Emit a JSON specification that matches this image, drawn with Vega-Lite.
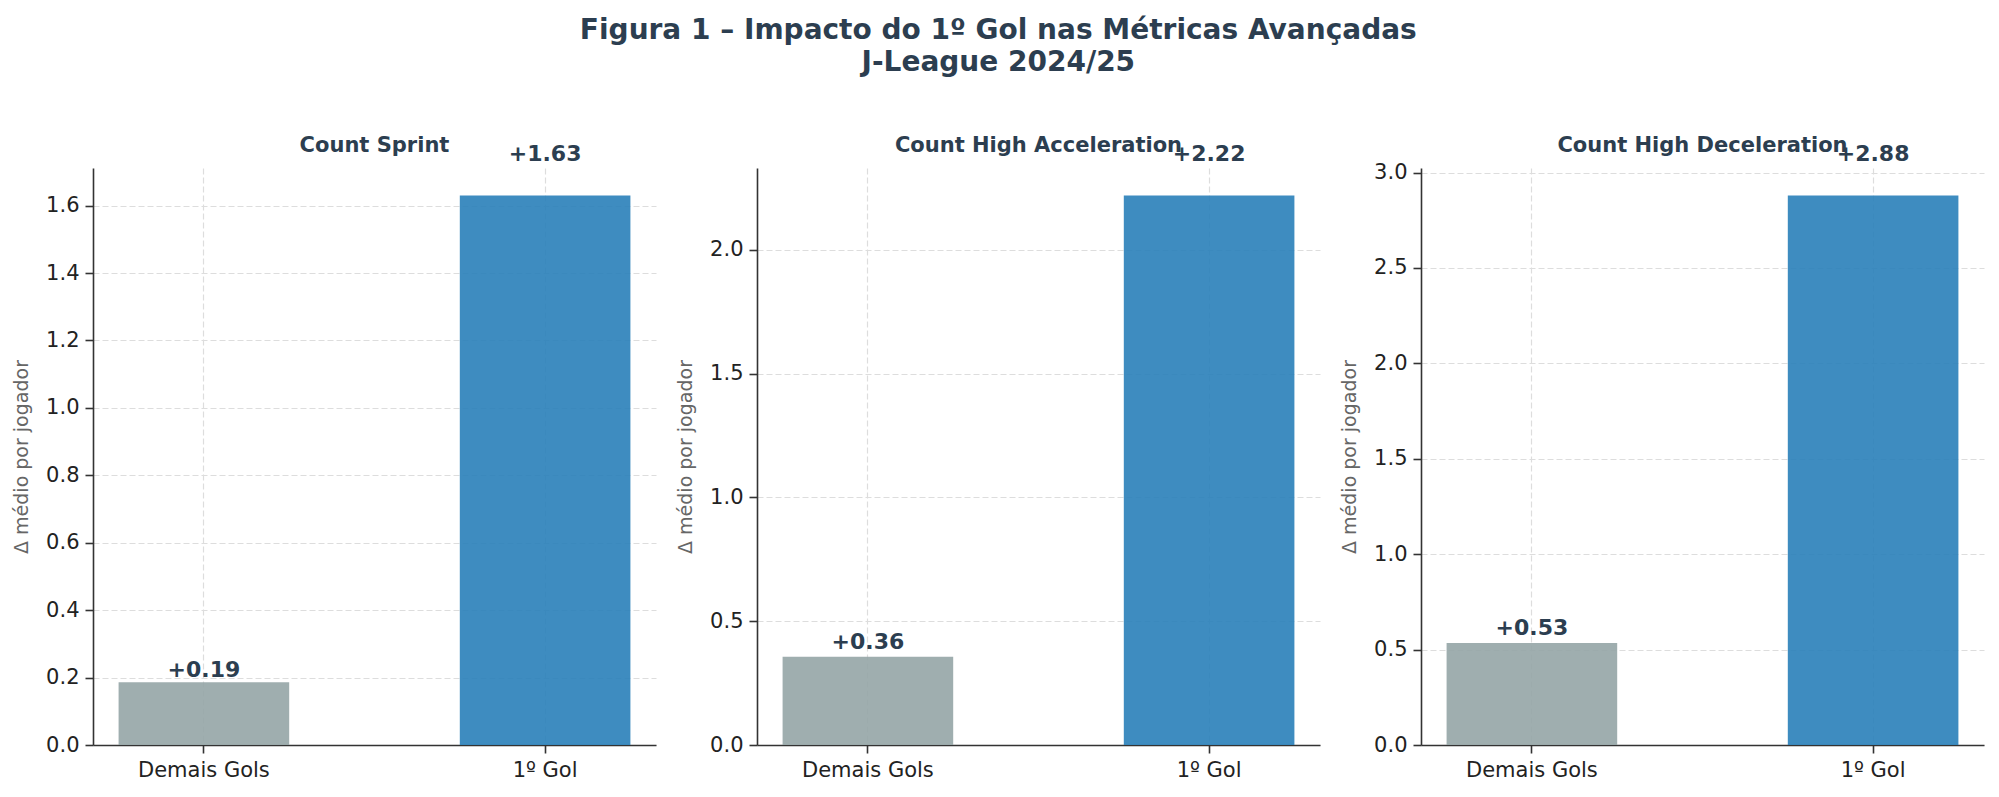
{
  "$schema": "https://vega.github.io/schema/vega-lite/v6.json",
  "padding": {"left": 12, "top": 16, "right": 10, "bottom": 5},
  "background": "white",
  "title": {
    "text": ["Figura 1 – Impacto do 1º Gol nas Métricas Avançadas", "J-League 2024/25"],
    "fontSize": 28,
    "lineHeight": 32,
    "fontWeight": "bold",
    "color": "#2c3e50",
    "anchor": "middle",
    "offset": 58
  },
  "data": {
    "values": [
      {"metrica": "Count Sprint", "grupo": "Demais Gols", "valor": 0.186},
      {"metrica": "Count Sprint", "grupo": "1º Gol", "valor": 1.63},
      {"metrica": "Count High Acceleration", "grupo": "Demais Gols", "valor": 0.357},
      {"metrica": "Count High Acceleration", "grupo": "1º Gol", "valor": 2.22},
      {"metrica": "Count High Deceleration", "grupo": "Demais Gols", "valor": 0.534},
      {"metrica": "Count High Deceleration", "grupo": "1º Gol", "valor": 2.88}
    ]
  },
  "spacing": 20,
  "hconcat": [
    {
      "title": "Count Sprint",
      "width": 563,
      "height": 577,
      "transform": [
        {"filter": "datum.metrica == 'Count Sprint'"},
        {"calculate": "datum.valor * 1.06", "as": "pos_rotulo"},
        {"calculate": "'+' + format(datum.valor, '.2f')", "as": "rotulo"}
      ],
      "encoding": {
        "x": {"field": "grupo", "type": "nominal", "sort": ["Demais Gols", "1º Gol"], "title": null,
              "scale": {"paddingInner": 0.5, "paddingOuter": 0.075}}
      },
      "layer": [
        {
          "mark": {"type": "bar", "opacity": 0.9},
          "encoding": {
            "y": {"field": "valor", "type": "quantitative", "title": "Δ médio por jogador",
                  "scale": {"domain": [0, 1.7115], "nice": false},
                  "axis": {"values": [0, 0.2, 0.4, 0.6, 0.8, 1.0, 1.2, 1.4, 1.6], "format": ".1f"}},
            "color": {"field": "grupo", "type": "nominal", "legend": null,
                      "scale": {"domain": ["Demais Gols", "1º Gol"], "range": ["#95a5a6", "#2980b9"]}}
          }
        },
        {
          "mark": {"type": "text", "fontSize": 22, "fontWeight": "bold", "color": "#2c3e50", "baseline": "alphabetic", "dy": -2},
          "encoding": {
            "y": {"field": "pos_rotulo", "type": "quantitative", "title": "Δ médio por jogador"},
            "text": {"field": "rotulo"}
          }
        }
      ]
    },
    {
      "title": "Count High Acceleration",
      "width": 563,
      "height": 577,
      "transform": [
        {"filter": "datum.metrica == 'Count High Acceleration'"},
        {"calculate": "datum.valor * 1.06", "as": "pos_rotulo"},
        {"calculate": "'+' + format(datum.valor, '.2f')", "as": "rotulo"}
      ],
      "encoding": {
        "x": {"field": "grupo", "type": "nominal", "sort": ["Demais Gols", "1º Gol"], "title": null,
              "scale": {"paddingInner": 0.5, "paddingOuter": 0.075}}
      },
      "layer": [
        {
          "mark": {"type": "bar", "opacity": 0.9},
          "encoding": {
            "y": {"field": "valor", "type": "quantitative", "title": "Δ médio por jogador",
                  "scale": {"domain": [0, 2.331], "nice": false},
                  "axis": {"values": [0, 0.5, 1.0, 1.5, 2.0], "format": ".1f"}},
            "color": {"field": "grupo", "type": "nominal", "legend": null,
                      "scale": {"domain": ["Demais Gols", "1º Gol"], "range": ["#95a5a6", "#2980b9"]}}
          }
        },
        {
          "mark": {"type": "text", "fontSize": 22, "fontWeight": "bold", "color": "#2c3e50", "baseline": "alphabetic", "dy": -2},
          "encoding": {
            "y": {"field": "pos_rotulo", "type": "quantitative", "title": "Δ médio por jogador"},
            "text": {"field": "rotulo"}
          }
        }
      ]
    },
    {
      "title": "Count High Deceleration",
      "width": 563,
      "height": 577,
      "transform": [
        {"filter": "datum.metrica == 'Count High Deceleration'"},
        {"calculate": "datum.valor * 1.06", "as": "pos_rotulo"},
        {"calculate": "'+' + format(datum.valor, '.2f')", "as": "rotulo"}
      ],
      "encoding": {
        "x": {"field": "grupo", "type": "nominal", "sort": ["Demais Gols", "1º Gol"], "title": null,
              "scale": {"paddingInner": 0.5, "paddingOuter": 0.075}}
      },
      "layer": [
        {
          "mark": {"type": "bar", "opacity": 0.9},
          "encoding": {
            "y": {"field": "valor", "type": "quantitative", "title": "Δ médio por jogador",
                  "scale": {"domain": [0, 3.024], "nice": false},
                  "axis": {"values": [0, 0.5, 1.0, 1.5, 2.0, 2.5, 3.0], "format": ".1f"}},
            "color": {"field": "grupo", "type": "nominal", "legend": null,
                      "scale": {"domain": ["Demais Gols", "1º Gol"], "range": ["#95a5a6", "#2980b9"]}}
          }
        },
        {
          "mark": {"type": "text", "fontSize": 22, "fontWeight": "bold", "color": "#2c3e50", "baseline": "alphabetic", "dy": -2},
          "encoding": {
            "y": {"field": "pos_rotulo", "type": "quantitative", "title": "Δ médio por jogador"},
            "text": {"field": "rotulo"}
          }
        }
      ]
    }
  ],
  "config": {
    "font": "DejaVu Sans",
    "view": {"stroke": null},
    "title": {"fontSize": 21, "fontWeight": "bold", "color": "#2c3e50", "offset": -13},
    "axis": {
      "domainColor": "#333333",
      "domainWidth": 1.6,
      "tickColor": "#333333",
      "tickWidth": 1.6,
      "tickSize": 8,
      "labelFontSize": 21,
      "labelColor": "#222222",
      "labelPadding": 6,
      "grid": true,
      "gridColor": "#dddddd",
      "gridDash": [6, 3],
      "gridWidth": 1.2,
      "titleFontSize": 19,
      "titleFontWeight": "normal",
      "titleColor": "#666666",
      "titlePadding": 14
    },
    "axisX": {"labelAngle": 0}
  }
}
